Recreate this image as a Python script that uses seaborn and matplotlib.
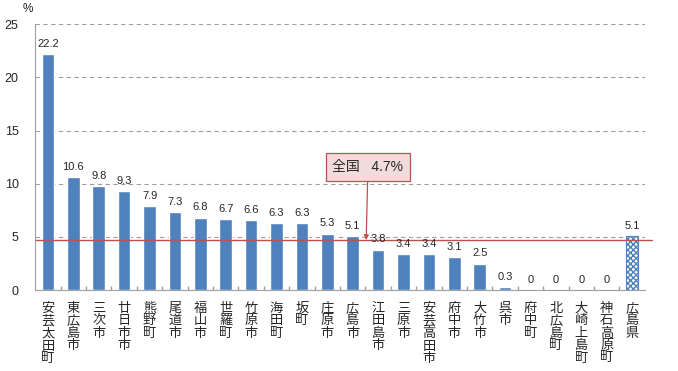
import numpy as np
import pandas as pd
import seaborn as sns
import matplotlib.pyplot as plt
from matplotlib.ticker import FixedLocator

# data
areas = ['安芸太田町', '東広島市', '三次市', '廿日市市', '熊野町', '尾道市', '福山市', '世羅町',
         '竹原市', '海田町', '坂町', '庄原市', '広島市', '江田島市', '三原市', '安芸高田市',
         '府中市', '大竹市', '呉市', '府中町', '北広島町', '大崎上島町', '神石高原町', '広島県']
rates = [22.2, 10.6, 9.8, 9.3, 7.9, 7.3, 6.8, 6.7, 6.6, 6.3, 6.3, 5.3, 5.1, 3.8, 3.4, 3.4,
         3.1, 2.5, 0.3, 0, 0, 0, 0, 5.1]
national = 4.7

sns.set_theme(style='white')
plt.rcParams['font.family'] = ['Liberation Sans', 'Noto Sans CJK JP', 'DejaVu Sans']

df = pd.DataFrame({'area': areas, 'rate': rates})

fig = plt.figure(figsize=(6.78, 3.71), dpi=100)
ax = fig.add_axes([0.052, 0.218, 0.899, 0.717])

sns.barplot(data=df, x='area', y='rate', color='#4f81bd', saturation=1, width=0.5, ax=ax)

# prefecture bar gets the checkered look
last = ax.patches[-1]
last.set_facecolor('white')
last.set_edgecolor('#4f81bd')
last.set_hatch('xxxxxx')
last.set_linewidth(0.8)

for p, v in zip(ax.patches, rates):
    lbl = f'{v:g}' if v != 0 else '0'
    ax.text(p.get_x() + p.get_width() / 2, v + 0.5, lbl, ha='center', va='bottom', fontsize=8)

ax.set_xlim(-0.5, len(areas) - 0.5)
ax.set_ylim(0, 25)
ax.set_yticks([0, 5, 10, 15, 20, 25])
ax.yaxis.grid(True, linestyle=(0, (4, 3)), color='#a0a0a0', linewidth=0.8)
ax.set_axisbelow(True)

ax.set_xticks(range(len(areas)))
ax.set_xticklabels(['\n'.join(a) for a in areas], fontsize=9.5, linespacing=1.05, va='top')
ax.tick_params(axis='x', which='major', length=0, pad=9)
ax.xaxis.set_minor_locator(FixedLocator(np.arange(0.5, len(areas) - 0.5, 1)))
ax.tick_params(axis='x', which='minor', direction='in', length=3, color='#a0a0a0', bottom=True)
ax.tick_params(axis='y', length=0, labelsize=9, pad=12)
ax.set_xlabel('')
ax.set_ylabel('')

for s in ['top', 'right']:
    ax.spines[s].set_visible(False)
for s in ['left', 'bottom']:
    ax.spines[s].set_color('#a0a0a0')
    ax.spines[s].set_linewidth(0.8)

ax.text(-0.8, 25.9, '%', fontsize=8.5, ha='center', va='bottom')

# national average line and callout
ax.plot([-0.5, 23.8], [national, national], color='#c0504d', linewidth=1, clip_on=False)
ax.annotate('全国   4.7%', xy=(12.53, national), xytext=(12.6, 11.6),
            ha='center', va='center', fontsize=10,
            bbox=dict(boxstyle='square,pad=0.5', fc='#f2dcdb', ec='#b85450', lw=0.9),
            arrowprops=dict(arrowstyle='-|>', color='#c0504d', lw=0.9, mutation_scale=7,
                            shrinkA=0, shrinkB=0))

fig.savefig('out.png', dpi=100)
